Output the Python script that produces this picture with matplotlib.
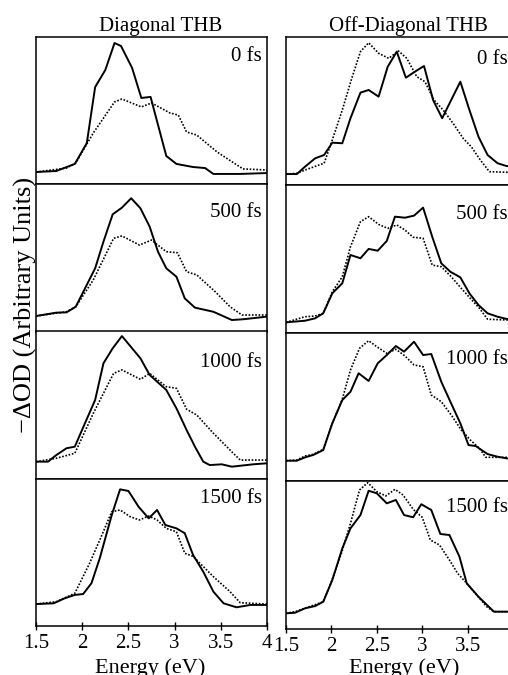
import matplotlib
matplotlib.use("Agg")
import matplotlib.pyplot as plt

plt.rcParams["font.family"] = ["Liberation Serif", "DejaVu Serif"]

delays = ["0 fs", "500 fs", "1000 fs", "1500 fs"]
x_ticks = [1.5, 2, 2.5, 3, 3.5, 4]
x_tick_labels = ["1.5", "2", "2.5", "3", "3.5", "4"]

# Diagonal THB, solid and dotted traces
diag_0_solid_e = [1.5, 1.72, 1.92, 2.05, 2.14, 2.25, 2.35, 2.42, 2.54, 2.64, 2.74, 2.91, 3.02, 3.2, 3.33, 3.42, 3.71, 4.0]
diag_0_solid_v = [0.083, 0.090, 0.138, 0.280, 0.660, 0.776, 0.959, 0.939, 0.790, 0.586, 0.593, 0.192, 0.138, 0.117, 0.110, 0.070, 0.070, 0.076]
diag_0_dot_e = [1.5, 1.83, 1.93, 2.12, 2.35, 2.43, 2.64, 2.75, 2.95, 3.04, 3.13, 3.24, 3.46, 3.74, 4.0]
diag_0_dot_v = [0.083, 0.110, 0.144, 0.348, 0.559, 0.579, 0.525, 0.552, 0.484, 0.470, 0.355, 0.334, 0.219, 0.104, 0.097]

diag_500_solid_e = [1.5, 1.72, 1.83, 1.93, 2.14, 2.23, 2.33, 2.43, 2.53, 2.63, 2.73, 2.82, 2.91, 3.02, 3.11, 3.22, 3.42, 3.62, 3.74, 4.0]
diag_500_solid_v = [0.105, 0.128, 0.130, 0.168, 0.429, 0.610, 0.796, 0.841, 0.905, 0.837, 0.712, 0.542, 0.429, 0.372, 0.225, 0.162, 0.134, 0.078, 0.083, 0.101]
diag_500_dot_e = [1.5, 1.83, 1.93, 2.12, 2.34, 2.43, 2.62, 2.75, 2.91, 3.03, 3.13, 3.24, 3.44, 3.6, 3.73, 4.0]
diag_500_dot_v = [0.105, 0.134, 0.168, 0.350, 0.633, 0.649, 0.587, 0.621, 0.542, 0.535, 0.406, 0.384, 0.270, 0.168, 0.112, 0.112]

diag_1000_solid_e = [1.5, 1.63, 1.72, 1.83, 1.92, 2.03, 2.14, 2.23, 2.33, 2.43, 2.54, 2.63, 2.73, 2.91, 3.02, 3.13, 3.22, 3.31, 3.38, 3.51, 3.62, 3.85, 4.0]
diag_1000_solid_v = [0.116, 0.116, 0.161, 0.207, 0.218, 0.377, 0.535, 0.784, 0.886, 0.969, 0.886, 0.818, 0.705, 0.603, 0.478, 0.331, 0.218, 0.116, 0.093, 0.098, 0.082, 0.098, 0.105]
diag_1000_dot_e = [1.5, 1.72, 1.92, 2.12, 2.34, 2.43, 2.63, 2.73, 2.91, 3.02, 3.13, 3.24, 3.42, 3.6, 3.71, 4.0]
diag_1000_dot_v = [0.116, 0.139, 0.173, 0.444, 0.716, 0.739, 0.675, 0.716, 0.625, 0.614, 0.472, 0.433, 0.309, 0.195, 0.127, 0.127]

diag_1500_solid_e = [1.5, 1.69, 1.81, 1.92, 2.01, 2.1, 2.19, 2.32, 2.41, 2.5, 2.61, 2.72, 2.81, 2.9, 3.02, 3.11, 3.2, 3.31, 3.42, 3.53, 3.67, 3.82, 4.0]
diag_1500_solid_v = [0.149, 0.154, 0.188, 0.211, 0.217, 0.290, 0.460, 0.754, 0.928, 0.917, 0.810, 0.731, 0.788, 0.686, 0.663, 0.630, 0.482, 0.369, 0.233, 0.154, 0.127, 0.143, 0.143]
diag_1500_dot_e = [1.5, 1.72, 1.92, 2.08, 2.19, 2.32, 2.41, 2.52, 2.62, 2.72, 2.81, 2.91, 3.02, 3.11, 3.2, 3.42, 3.6, 3.71, 4.0]
diag_1500_dot_v = [0.149, 0.165, 0.222, 0.426, 0.584, 0.776, 0.788, 0.742, 0.720, 0.747, 0.720, 0.663, 0.640, 0.494, 0.473, 0.335, 0.233, 0.158, 0.149]

# Off-Diagonal THB
off_0_solid_e = [1.5, 1.62, 1.71, 1.82, 1.92, 2.01, 2.12, 2.21, 2.32, 2.41, 2.52, 2.62, 2.72, 2.82, 2.92, 3.02, 3.12, 3.22, 3.31, 3.42, 3.52, 3.62, 3.72, 3.83, 3.93, 4.0]
off_0_solid_v = [0.074, 0.074, 0.124, 0.180, 0.203, 0.286, 0.282, 0.451, 0.624, 0.642, 0.597, 0.799, 0.901, 0.725, 0.766, 0.804, 0.574, 0.451, 0.563, 0.698, 0.507, 0.326, 0.203, 0.147, 0.128, 0.125]
off_0_dot_e = [1.5, 1.62, 1.73, 1.92, 2.01, 2.12, 2.23, 2.32, 2.41, 2.52, 2.63, 2.74, 2.83, 2.94, 3.03, 3.13, 3.23, 3.34, 3.45, 3.54, 3.64, 3.74, 3.93, 4.0]
off_0_dot_v = [0.074, 0.079, 0.106, 0.147, 0.304, 0.507, 0.732, 0.901, 0.961, 0.890, 0.856, 0.905, 0.856, 0.732, 0.698, 0.574, 0.507, 0.417, 0.316, 0.259, 0.169, 0.090, 0.086, 0.086]

off_500_solid_e = [1.5, 1.71, 1.82, 1.91, 2.01, 2.12, 2.21, 2.32, 2.41, 2.51, 2.61, 2.70, 2.81, 2.91, 3.01, 3.11, 3.21, 3.31, 3.42, 3.52, 3.62, 3.72, 3.83, 3.93, 4.0]
off_500_solid_v = [0.072, 0.083, 0.099, 0.133, 0.268, 0.336, 0.527, 0.505, 0.568, 0.556, 0.622, 0.786, 0.779, 0.793, 0.847, 0.651, 0.471, 0.414, 0.376, 0.268, 0.189, 0.133, 0.110, 0.095, 0.090]
off_500_dot_e = [1.5, 1.71, 1.82, 1.91, 2.01, 2.12, 2.21, 2.32, 2.41, 2.52, 2.62, 2.72, 2.81, 2.90, 3.01, 3.11, 3.21, 3.32, 3.43, 3.53, 3.63, 3.72, 3.93, 4.0]
off_500_dot_v = [0.072, 0.110, 0.115, 0.133, 0.279, 0.380, 0.583, 0.752, 0.786, 0.734, 0.707, 0.730, 0.696, 0.647, 0.640, 0.459, 0.448, 0.380, 0.302, 0.234, 0.167, 0.093, 0.088, 0.088]

off_1000_solid_e = [1.5, 1.62, 1.71, 1.80, 1.91, 2.01, 2.12, 2.21, 2.30, 2.41, 2.51, 2.61, 2.71, 2.80, 2.91, 3.01, 3.10, 3.21, 3.31, 3.42, 3.51, 3.59, 3.72, 3.83, 3.93, 4.0]
off_1000_solid_v = [0.137, 0.137, 0.160, 0.176, 0.209, 0.390, 0.547, 0.603, 0.728, 0.676, 0.795, 0.851, 0.912, 0.874, 0.941, 0.851, 0.858, 0.671, 0.536, 0.390, 0.243, 0.236, 0.182, 0.164, 0.153, 0.150]
off_1000_dot_e = [1.5, 1.62, 1.71, 1.80, 1.91, 2.01, 2.12, 2.21, 2.31, 2.41, 2.51, 2.61, 2.71, 2.81, 2.91, 3.01, 3.10, 3.21, 3.32, 3.43, 3.53, 3.63, 3.70, 3.93, 4.0]
off_1000_dot_v = [0.137, 0.142, 0.169, 0.180, 0.214, 0.390, 0.552, 0.750, 0.897, 0.948, 0.903, 0.863, 0.890, 0.845, 0.784, 0.772, 0.581, 0.536, 0.446, 0.345, 0.277, 0.221, 0.160, 0.160, 0.160]

off_1500_solid_e = [1.5, 1.60, 1.71, 1.82, 1.91, 2.01, 2.12, 2.21, 2.32, 2.41, 2.50, 2.61, 2.71, 2.80, 2.90, 2.99, 3.10, 3.20, 3.30, 3.41, 3.49, 3.62, 3.79, 4.0]
off_1500_solid_v = [0.106, 0.110, 0.140, 0.155, 0.184, 0.331, 0.545, 0.680, 0.770, 0.934, 0.917, 0.849, 0.872, 0.770, 0.755, 0.843, 0.804, 0.642, 0.635, 0.489, 0.309, 0.218, 0.117, 0.117]
off_1500_dot_e = [1.5, 1.60, 1.71, 1.91, 2.00, 2.11, 2.21, 2.31, 2.40, 2.50, 2.60, 2.70, 2.79, 2.90, 3.00, 3.09, 3.19, 3.30, 3.39, 3.49, 3.60, 3.71, 3.79, 4.0]
off_1500_dot_v = [0.106, 0.117, 0.140, 0.184, 0.320, 0.511, 0.714, 0.939, 0.989, 0.928, 0.899, 0.944, 0.905, 0.809, 0.755, 0.601, 0.568, 0.466, 0.376, 0.309, 0.230, 0.151, 0.117, 0.117]

left_panels = [
    (diag_0_solid_e, diag_0_solid_v, diag_0_dot_e, diag_0_dot_v),
    (diag_500_solid_e, diag_500_solid_v, diag_500_dot_e, diag_500_dot_v),
    (diag_1000_solid_e, diag_1000_solid_v, diag_1000_dot_e, diag_1000_dot_v),
    (diag_1500_solid_e, diag_1500_solid_v, diag_1500_dot_e, diag_1500_dot_v),
]
right_panels = [
    (off_0_solid_e, off_0_solid_v, off_0_dot_e, off_0_dot_v),
    (off_500_solid_e, off_500_solid_v, off_500_dot_e, off_500_dot_v),
    (off_1000_solid_e, off_1000_solid_v, off_1000_dot_e, off_1000_dot_v),
    (off_1500_solid_e, off_1500_solid_v, off_1500_dot_e, off_1500_dot_v),
]

W, H = 508.0, 675.0
fig = plt.figure(figsize=(W / 100, H / 100), dpi=100)

# column geometry in pixels: left, width, top, bottom, panels, label offsets
columns = [
    (36, 231, 37, 626, left_panels, [10, 19, 22, 10]),
    (286, 227, 37, 629, right_panels, [13, 20, 17, 17]),
]

for left, width, top, bottom, panels, label_off in columns:
    ph = (bottom - top) / 4.0
    for i, (se, sv, de, dv) in enumerate(panels):
        y0 = H - (top + ph * (i + 1))
        ax = fig.add_axes([left / W, y0 / H, width / W, ph / H])
        ax.plot(de, dv, color="black", linestyle=(0, (1, 1)), linewidth=1.2)
        ax.plot(se, sv, color="black", linestyle="-", linewidth=1.4)
        ax.set_xlim(1.5, 4)
        ax.set_ylim(0, 1)
        ax.set_yticks([])
        for s in ax.spines.values():
            s.set_linewidth(1.1)
        ax.set_xticks(x_ticks)
        ax.tick_params(axis="x", direction="inout", length=6, width=1, pad=3)
        if i == 3:
            ax.set_xticklabels(x_tick_labels, fontsize=15)
        else:
            ax.tick_params(axis="x", length=0, labelbottom=False)
        ax.text(1 - 5.0 / width, 1 - label_off[i] / ph, delays[i], transform=ax.transAxes,
                ha="right", va="top", fontsize=15)

fig.text(161 / W, 1 - 31 / H, "Diagonal THB", ha="center", va="baseline", fontsize=15)
fig.text(408 / W, 1 - 31 / H, "Off-Diagonal THB", ha="center", va="baseline", fontsize=15)
fig.text(150 / W, 1 - 673 / H, "Energy (eV)", ha="center", va="baseline", fontsize=16)
fig.text(404 / W, 1 - 673 / H, "Energy (eV)", ha="center", va="baseline", fontsize=16)
fig.text(25 / W, 1 - 305 / H, "\u2212\u0394OD (Arbitrary Units)", rotation=90,
         ha="center", va="center", fontsize=19)

fig.savefig("out.png", dpi=100)
